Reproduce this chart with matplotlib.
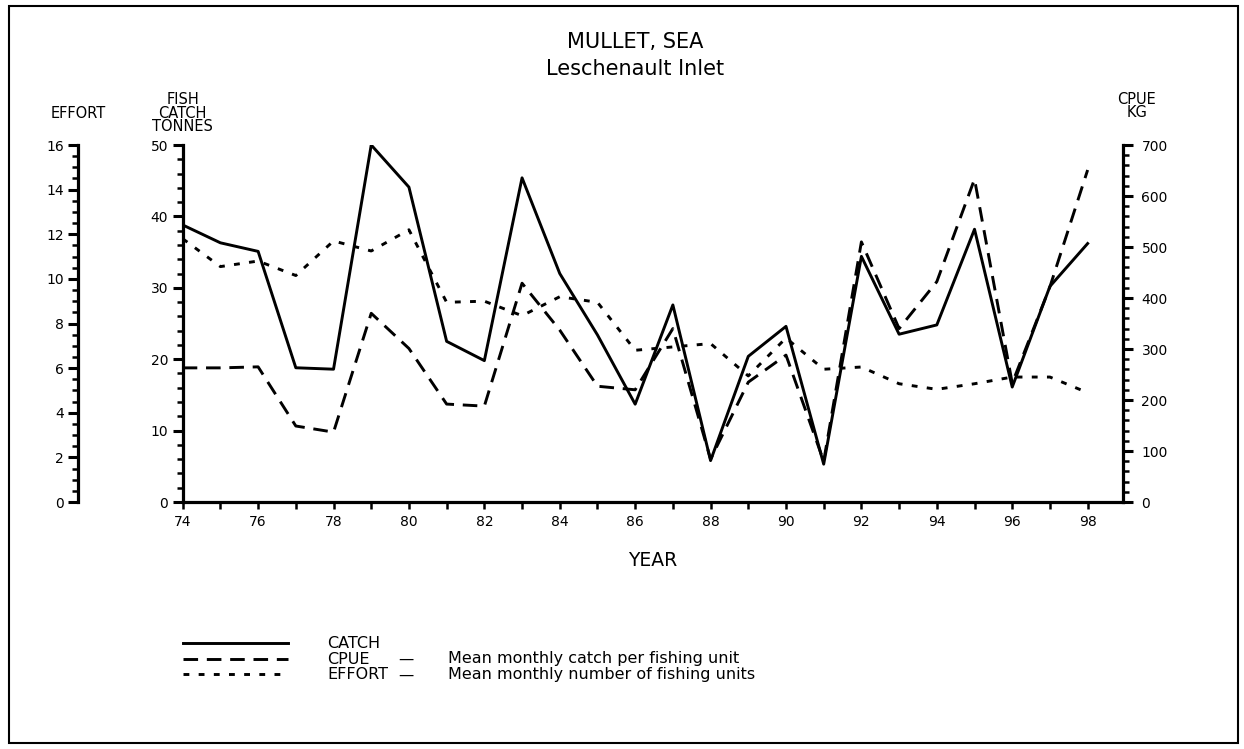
import matplotlib
matplotlib.use("Agg")
import matplotlib.pyplot as plt
from matplotlib.lines import Line2D
from matplotlib.patches import Rectangle
from matplotlib.ticker import MultipleLocator

plt.rcParams["font.family"] = ["DejaVu Sans"]

# --- series (year 74..98) ---------------------------------------------------
years = list(range(74, 99))
catch_t = [38.8, 36.3, 35.1, 18.8, 18.6, 50.0, 44.1, 22.5, 19.8, 45.4,
           32.0, 23.4, 13.7, 27.6, 5.8, 20.4, 24.6, 5.3, 34.4, 23.5,
           24.8, 38.2, 16.1, 30.2, 36.2]
cpue_kg = [263, 263, 265, 149, 137, 370, 301, 192, 188, 429,
           337, 227, 220, 340, 84, 235, 288, 80, 510, 340,
           432, 633, 233, 422, 651]
effort_units = [11.8, 10.55, 10.8, 10.15, 11.7, 11.25, 12.2, 8.95, 9.0, 8.35,
                9.2, 8.95, 6.8, 6.95, 7.1, 5.65, 7.35, 5.95, 6.05, 5.3,
                5.05, 5.3, 5.6, 5.6, 4.9]

legend_names = ["CATCH", "CPUE", "EFFORT"]
legend_desc = ["", "Mean monthly catch per fishing unit",
               "Mean monthly number of fishing units"]

W, H = 1244, 749
fig = plt.figure(figsize=(W / 100, H / 100), dpi=100)

# axes box in pixel terms: catch axis x=183, right axis x=1123, y 145..502
x0, x1, ytop, ybot = 182.7, 1122.7, 145, 502
ax = fig.add_axes([x0 / W, 1 - ybot / H, (x1 - x0) / W, (ybot - ytop) / H])

LW_AX = 2.3
LW = 2.1
solid = "-"
cpue_ls = (0, (5, 3))
eff_ls = (0, (2, 3.2))
TICKFS = 10

def style_y(a, pad):
    a.tick_params(axis="y", which="major", direction="out", length=7, width=2.2,
                  labelsize=TICKFS, pad=pad)
    a.tick_params(axis="y", which="minor", direction="out", length=4.5, width=1.8)

for s in ["top", "right"]:
    ax.spines[s].set_visible(False)
for s in ["left", "bottom"]:
    ax.spines[s].set_linewidth(LW_AX)

ax.set_xlim(74, 98.93)
ax.set_ylim(0, 50)
ax.xaxis.set_major_locator(MultipleLocator(2))
ax.xaxis.set_minor_locator(MultipleLocator(1))
ax.yaxis.set_major_locator(MultipleLocator(10))
ax.yaxis.set_minor_locator(MultipleLocator(2))
ax.tick_params(axis="x", which="both", direction="out", length=5, width=1.8,
               labelsize=TICKFS, pad=4)
style_y(ax, 3.5)
ax.xaxis.set_major_formatter(plt.FuncFormatter(lambda v, p: f"{int(v)}"))

ax.plot(years, catch_t, color="black", lw=LW, ls=solid)

# CPUE on the right
ax_c = ax.twinx()
ax_c.set_ylim(0, 700)
for s in ["top", "left", "bottom"]:
    ax_c.spines[s].set_visible(False)
ax_c.spines["right"].set_linewidth(LW_AX)
ax_c.yaxis.set_major_locator(MultipleLocator(100))
ax_c.yaxis.set_minor_locator(MultipleLocator(20))
style_y(ax_c, 6.5)
ax_c.plot(years, cpue_kg, color="black", lw=LW, ls=cpue_ls)

# effort on an offset left spine
ax_e = ax.twinx()
ax_e.set_ylim(0, 16)
for s in ["top", "right", "bottom"]:
    ax_e.spines[s].set_visible(False)
ax_e.spines["left"].set_visible(True)
ax_e.spines["left"].set_position(("axes", (78.3 - x0) / (x1 - x0)))
ax_e.spines["left"].set_linewidth(LW_AX)
ax_e.yaxis.set_ticks_position("left")
ax_e.yaxis.set_label_position("left")
ax_e.yaxis.set_major_locator(MultipleLocator(2))
ax_e.yaxis.set_minor_locator(MultipleLocator(0.5))
style_y(ax_e, 3.5)
ax_e.plot(years, effort_units, color="black", lw=LW, ls=eff_ls)

# axis titles
def ftext(x, y, s, size=10, **kw):
    fig.text(x / W, 1 - y / H, s, fontsize=size, ha="center", va="center", **kw)

ftext(78, 113, "EFFORT", size=10.5)
ftext(182.5, 113, "FISH\nCATCH\nTONNES", size=10.5, linespacing=0.88)
ftext(1137, 106, "CPUE\nKG", size=10.5, linespacing=0.88)
ftext(652.7, 560, "YEAR", size=13.5)

# title
ftext(635, 42, "MULLET, SEA", size=15)
ftext(635, 69, "Leschenault Inlet", size=15)

# legend block: line samples, then one text block per column
styles = [solid, cpue_ls, eff_ls]
rows_y = [643, 659, 674]
for ls, yy in zip(styles, rows_y):
    fig.add_artist(Line2D([183 / W, 288 / W], [1 - yy / H, 1 - yy / H],
                          transform=fig.transFigure, color="black", lw=LW, ls=ls))
LEG_FS = 11.5
LEG_SP = 1.03
mid = 1 - rows_y[1] / H
fig.text(327 / W, mid, "\n".join(legend_names), fontsize=LEG_FS, ha="left",
         va="center", linespacing=LEG_SP)
fig.text(398 / W, mid, "\n".join("\u2014" if d else "" for d in legend_desc),
         fontsize=11, ha="left", va="center", linespacing=LEG_SP * LEG_FS / 11)
fig.text(448 / W, mid, "\n".join(legend_desc), fontsize=LEG_FS, ha="left",
         va="center", linespacing=LEG_SP)

# frame around the page
fig.add_artist(Rectangle((9 / W, 1 - 743 / H), (1238 - 9) / W, (743 - 6) / H,
                         transform=fig.transFigure, fill=False, lw=1.5,
                         edgecolor="black"))

fig.savefig("out.png", dpi=100)
